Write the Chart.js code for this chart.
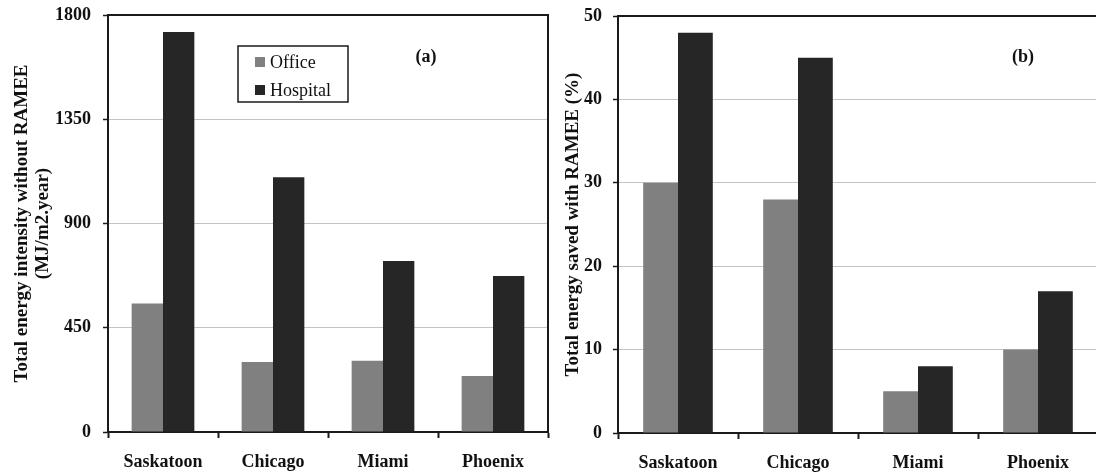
<!DOCTYPE html>
<html>
<head>
<meta charset="utf-8">
<script src="https://cdn.jsdelivr.net/npm/chart.js@4"></script>
<style>
  html, body { margin: 0; padding: 0; background: #fff; overflow: hidden; width: 1096px; height: 474px; position: relative; }
  canvas { position: absolute; top: 0; }
  #chartA { left: 0; }
  #chartB { left: 550px; }
</style>
</head>
<body>
<canvas id="chartA" width="550" height="474"></canvas>
<canvas id="chartB" width="550" height="474"></canvas>
<script>
// Cities on the category axis
const cities = ['Saskatoon', 'Chicago', 'Miami', 'Phoenix'];
const seriesNames = ['Office', 'Hospital'];

// (a) total energy intensity without RAMEE, MJ/m2.year
const intensityOffice   = [555, 302, 308, 242];
const intensityHospital = [1727, 1100, 738, 673];

// (b) total energy saved with RAMEE, %
const savedOffice   = [30, 28, 5, 10];
const savedHospital = [48, 45, 8, 17];

// Value-axis ticks
const intensityTicks = [0, 450, 900, 1350, 1800];
const savedTicks = [0, 10, 20, 30, 40, 50];

const SERIF = "'Liberation Serif', 'Times New Roman', serif";
const INK = '#111111';
const AXIS = '#1a1a1a';
const GRID = '#c4c4c4';
const seriesColors = ['#808080', '#262626'];

Chart.defaults.font.family = SERIF;
Chart.defaults.color = INK;
Chart.defaults.animation = false;

// Top and right edges of the plot box
const framePlugin = {
  id: 'frame',
  afterDraw(chart) {
    const { ctx, chartArea: a } = chart;
    ctx.save();
    ctx.strokeStyle = AXIS;
    ctx.lineWidth = 2;
    ctx.beginPath();
    ctx.moveTo(a.left, a.top);
    ctx.lineTo(a.right, a.top);
    ctx.lineTo(a.right, a.bottom);
    ctx.stroke();
    ctx.restore();
  }
};

// Panel tag such as "(a)"
const panelTagPlugin = {
  id: 'panelTag',
  afterDraw(chart, args, opts) {
    if (!opts || !opts.text) return;
    const { ctx } = chart;
    ctx.save();
    ctx.font = 'bold 18px ' + SERIF;
    ctx.fillStyle = INK;
    ctx.textAlign = 'center';
    ctx.textBaseline = 'middle';
    ctx.fillText(opts.text, opts.x, opts.y);
    ctx.restore();
  }
};

// Boxed legend placed inside the plot
const boxLegendPlugin = {
  id: 'boxLegend',
  afterDraw(chart, args, opts) {
    if (!opts || !opts.show) return;
    const { ctx } = chart;
    const { x, y, w, h, rowGap } = opts;
    ctx.save();
    ctx.fillStyle = '#fff';
    ctx.fillRect(x, y, w, h);
    ctx.strokeStyle = AXIS;
    ctx.lineWidth = 1.5;
    ctx.strokeRect(x, y, w, h);
    ctx.font = '18px ' + SERIF;
    ctx.textBaseline = 'middle';
    ctx.textAlign = 'left';
    chart.data.datasets.forEach((ds, i) => {
      const cy = y + 16 + i * rowGap;
      ctx.fillStyle = ds.backgroundColor;
      ctx.fillRect(x + 17, cy - 5, 10, 10);
      ctx.fillStyle = INK;
      ctx.fillText(ds.label, x + 32, cy + 1);
    });
    ctx.restore();
  }
};

function makeChart(canvasId, cfg) {
  return new Chart(document.getElementById(canvasId), {
    type: 'bar',
    data: {
      labels: cities,
      datasets: [
        { label: seriesNames[0], data: cfg.office, backgroundColor: seriesColors[0], borderWidth: 0 },
        { label: seriesNames[1], data: cfg.hospital, backgroundColor: seriesColors[1], borderWidth: 0 }
      ]
    },
    options: {
      responsive: false,
      maintainAspectRatio: false,
      devicePixelRatio: 1,
      layout: { padding: { top: cfg.top, right: 2, left: 0, bottom: 0 } },
      datasets: { bar: { categoryPercentage: cfg.groupWidth, barPercentage: 1 } },
      plugins: {
        legend: { display: false },
        tooltip: { enabled: false },
        frame: {},
        panelTag: cfg.tag,
        boxLegend: cfg.legend || { show: false }
      },
      scales: {
        x: {
          afterFit(s) {
            s.height = cfg.xHeight;
            s.paddingLeft = 0; s.paddingRight = 0;
          },
          grid: {
            offset: true,
            drawOnChartArea: false,
            drawTicks: true,
            tickLength: 6,
            tickColor: AXIS,
            tickWidth: 2
          },
          border: { display: true, color: AXIS, width: 2 },
          ticks: {
            font: { size: 18, weight: 'bold' },
            color: INK,
            padding: 14,
            maxRotation: 0,
            autoSkip: false
          }
        },
        y: {
          min: cfg.ticks[0],
          max: cfg.ticks[cfg.ticks.length - 1],
          afterFit(s) {
            s.width = cfg.yWidth;
            s.paddingTop = 0; s.paddingBottom = 0;
          },
          afterBuildTicks(s) { s.ticks = cfg.ticks.map(v => ({ value: v })); },
          grid: {
            color: GRID,
            lineWidth: 1,
            drawTicks: true,
            tickLength: 5,
            tickColor: AXIS,
            tickWidth: 1.5
          },
          border: { display: true, color: AXIS, width: 2 },
          ticks: {
            font: { size: 18, weight: 'bold' },
            color: INK,
            padding: cfg.tickPad,
            callback: v => String(v)
          },
          title: {
            display: true,
            text: cfg.title,
            font: { size: 19, weight: 'bold', lineHeight: 1.1 },
            color: INK,
            padding: { top: cfg.titlePad, bottom: 0 }
          }
        }
      }
    },
    plugins: [framePlugin, panelTagPlugin, boxLegendPlugin]
  });
}

makeChart('chartA', {
  office: intensityOffice,
  hospital: intensityHospital,
  ticks: intensityTicks,
  title: ['Total energy intensity without RAMEE', '(MJ/m2.year)'],
  top: 15,
  yWidth: 108,
  xHeight: 42,
  tickPad: 12,
  titlePad: 12,
  groupWidth: 0.57,
  tag: { text: '(a)', x: 426, y: 57 },
  legend: { show: true, x: 238, y: 46, w: 110, h: 56, rowGap: 28 }
});

makeChart('chartB', {
  office: savedOffice,
  hospital: savedHospital,
  ticks: savedTicks,
  title: 'Total energy saved with RAMEE (%)',
  top: 16,
  yWidth: 68,
  xHeight: 41,
  tickPad: 11,
  titlePad: 13,
  groupWidth: 0.58,
  tag: { text: '(b)', x: 473, y: 57 }
});
</script>
</body>
</html>
